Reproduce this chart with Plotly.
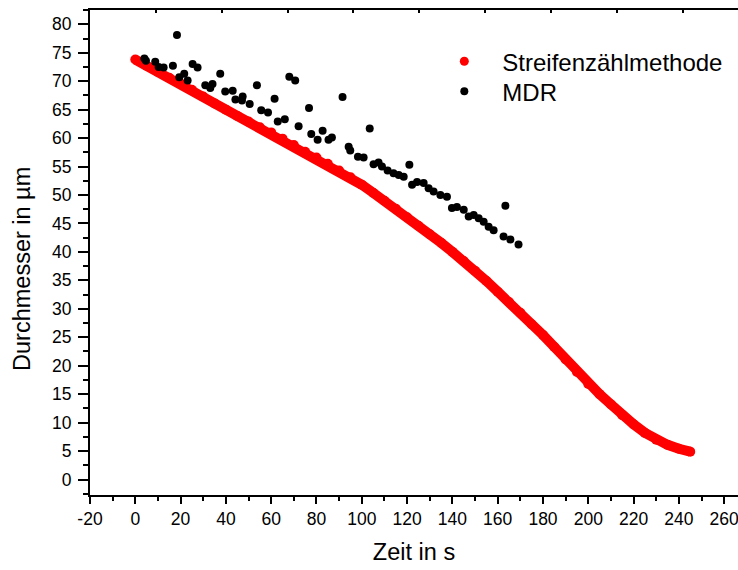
import plotly.graph_objects as go

# Streifenzählmethode (red)
t_red = [0, 5, 10, 15, 20, 25, 30, 35, 40, 45, 50, 55, 60, 65, 70, 75, 80, 85, 90, 95,
         100, 105, 110, 115, 120, 125, 130, 135, 140, 145, 150, 155, 160, 165, 170, 175,
         180, 185, 190, 195, 200, 205, 210, 215, 220, 225, 230, 235, 240, 245]
d_red = [73.8, 72.7, 71.6, 70.6, 69.6, 68.5, 67.3, 66.1, 65.0, 63.9, 62.9, 61.9, 61.0,
         59.9, 58.8, 57.6, 56.6, 55.5, 54.3, 53.1, 51.8, 50.4, 49.0, 47.6, 46.1, 44.6,
         43.1, 41.6, 40.0, 38.4, 36.7, 34.9, 33.0, 31.2, 29.3, 27.3, 25.4, 23.3, 21.1,
         18.9, 16.8, 15.0, 13.2, 11.3, 9.7, 8.2, 7.0, 6.1, 5.4, 4.9]

# MDR (black)
t_mdr = [4.0, 4.7, 8.8, 10.3, 12.5, 16.6, 18.4, 19.4, 21.6, 23.1, 25.3, 27.5, 30.9,
         33.1, 34.1, 37.5, 39.7, 43.0, 44.2, 47.1, 47.4, 50.5, 53.7, 55.6, 58.6, 61.5,
         62.9, 66.0, 68.0, 70.6, 72.1, 76.7, 77.7, 80.5, 82.7, 85.3, 86.8, 91.5, 94.2,
         94.9, 98.3, 100.8, 103.5, 105.2, 107.4, 108.9, 111.4, 114.0, 116.3, 118.5,
         121.0, 122.2, 124.4, 127.3, 129.5, 131.7, 134.7, 137.6, 139.8, 142.0, 145.0,
         147.2, 149.4, 151.6, 153.8, 156.0, 158.2, 162.6, 163.4, 165.6, 169.2]
d_mdr = [74.0, 73.6, 73.4, 72.5, 72.4, 72.7, 78.1, 70.7, 71.3, 70.1, 73.0, 72.4, 69.3,
         68.8, 69.5, 71.3, 68.2, 68.3, 66.8, 66.6, 67.3, 66.0, 69.3, 64.9, 64.5, 66.9,
         62.9, 63.3, 70.8, 70.1, 62.1, 65.3, 60.7, 59.7, 61.3, 59.7, 60.1, 67.2, 58.5,
         57.8, 56.7, 56.6, 61.7, 55.4, 55.7, 55.0, 54.3, 53.8, 53.5, 53.2,
         55.3, 51.8, 52.3, 52.1, 51.2, 50.6, 50.0, 49.7, 47.7, 47.9, 47.4,
         46.2, 46.5, 45.9, 45.3, 44.4, 43.8, 42.7, 48.1, 42.2, 41.3]

x_ticks = list(range(-20, 261, 20))
y_ticks = list(range(0, 81, 5))

RED = "#ff0000"
FONT = "Liberation Sans, Arial, sans-serif"

fig = go.Figure()
fig.add_trace(go.Scatter(
    x=t_red, y=d_red, mode="lines+markers",
    line=dict(color=RED, width=10),
    marker=dict(color=RED, size=10),
    showlegend=False, hoverinfo="x+y"))
fig.add_trace(go.Scatter(
    x=[None], y=[None], mode="markers", name="Streifenzählmethode",
    marker=dict(color=RED, size=9), legend="legend"))
fig.add_trace(go.Scatter(
    x=t_mdr, y=d_mdr, mode="markers", name="MDR",
    marker=dict(color="black", size=8), legend="legend2"))
# carrier for the top tick axis
fig.add_trace(go.Scatter(x=[None], y=[None], xaxis="x2", yaxis="y",
                         showlegend=False, hoverinfo="skip"))

legend_common = dict(xanchor="left", yanchor="top", font=dict(size=24, family=FONT),
                     bgcolor="rgba(0,0,0,0)", itemwidth=66)

fig.update_layout(
    width=738, height=570,
    margin=dict(l=90, r=0, t=10, b=75, autoexpand=False),
    paper_bgcolor="white", plot_bgcolor="white",
    font=dict(family=FONT, color="black", size=17.5),
    showlegend=True,
    legend=dict(x=0.519, y=0.940, **legend_common),
    legend2=dict(x=0.519, y=0.878, **legend_common),
    xaxis=dict(range=[-20, 266.1], tickvals=x_ticks, ticktext=[str(v) for v in x_ticks],
               automargin=False, ticklabeloverflow="allow",
               showgrid=False, zeroline=False, showline=True, linecolor="black",
               linewidth=2, mirror=True, ticks="outside", ticklen=7, tickwidth=2,
               tickcolor="black",
               minor=dict(dtick=10, tick0=0, ticks="outside", ticklen=4, tickwidth=2,
                          tickcolor="black", showgrid=False),
               title=dict(text="Zeit in s", font=dict(size=23.5), standoff=16),
               tickfont=dict(size=17.5)),
    xaxis2=dict(range=[0, 9.84], overlaying="x", side="top", anchor="y",
                automargin=False,
                showgrid=False, zeroline=False, showline=False, ticks="inside",
                ticklen=3, tickwidth=1.5, tickcolor="black", dtick=1, tick0=0,
                showticklabels=False),
    yaxis=dict(range=[-2.72, 82.51], tickvals=y_ticks, ticktext=[str(v) for v in y_ticks],
               automargin=False, ticklabelstandoff=3,
               showgrid=False, zeroline=False, showline=True, linecolor="black",
               linewidth=2, ticks="outside", ticklen=10, tickwidth=2, tickcolor="black",
               minor=dict(dtick=2.5, tick0=0, ticks="outside", ticklen=5, tickwidth=2,
                          tickcolor="black", showgrid=False),
               tickfont=dict(size=17.5)),
    annotations=[dict(text="Durchmesser in µm", textangle=-90, xref="paper", yref="paper",
                      x=-0.105, y=0.466, xanchor="center", yanchor="middle",
                      showarrow=False, font=dict(size=23.5, family=FONT))],
)
fig.write_html("out.html", config={"displayModeBar": False},
               post_script="document.body.style.margin='0';document.body.style.overflow='hidden';")
